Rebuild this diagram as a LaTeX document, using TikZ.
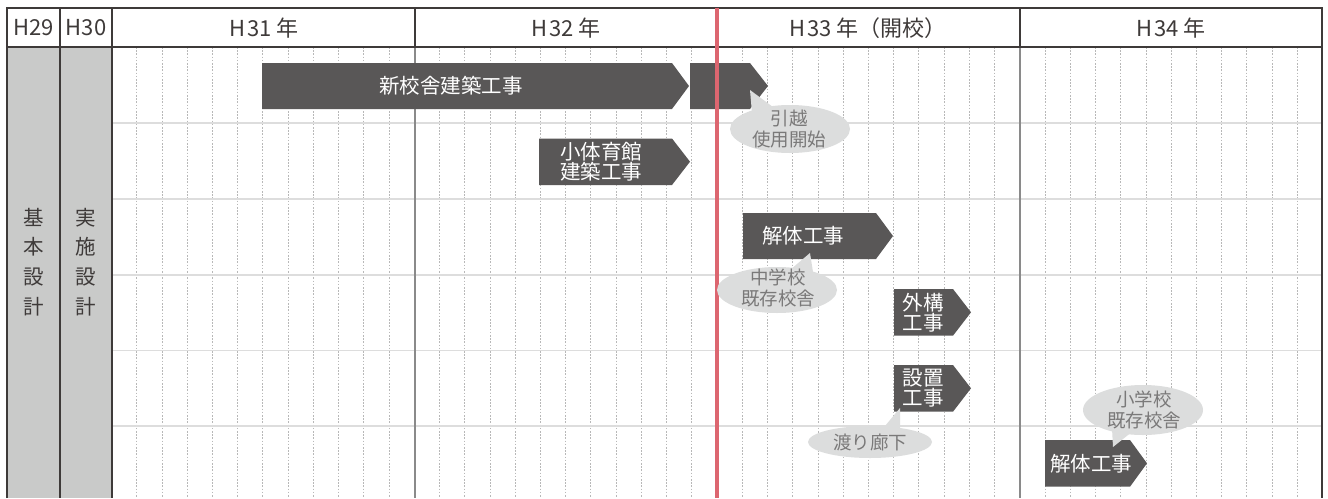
\documentclass[tikz,border=0pt]{standalone}
\usepackage{fontspec}
\setmainfont{Noto Sans CJK JP}
\definecolor{ink}{HTML}{3E3A39}
\definecolor{barc}{HTML}{595757}
\definecolor{colg}{HTML}{C9CAC9}
\definecolor{bub}{HTML}{DCDDDD}
\definecolor{bubtxt}{HTML}{7A7979}
\definecolor{redl}{HTML}{DC6670}
\definecolor{rowl}{HTML}{DDDDDD}
\definecolor{dotl}{HTML}{B8B8B8}
\definecolor{yearl}{HTML}{8A8A8A}
\begin{document}
\begin{tikzpicture}[x=1pt,y=-1pt,
  frame/.style={draw=ink,line width=1.6pt},
  dotline/.style={draw=dotl,line width=0.8pt,dash pattern=on 1.6pt off 1.6pt},
  rowline/.style={draw=rowl,line width=1.3pt},
  yearline/.style={draw=yearl,line width=1.3pt},
  redline/.style={draw=redl,line width=4.5pt},
  barshape/.style={fill=barc},
  bubshape/.style={fill=bub},
  hdr/.style={text=ink,font=\fontsize{22}{23}\selectfont,inner sep=0pt},
  vtext/.style={text=ink,font=\fontsize{20.5}{29.6}\selectfont,align=center,inner sep=0pt},
  bartext/.style={text=white,font=\fontsize{20.5}{20}\selectfont,align=center,inner sep=0pt},
  bubtext/.style={text=bubtxt,font=\fontsize{18.5}{21}\selectfont,align=center,inner sep=0pt}]
\useasboundingbox (0,0) rectangle (1328,498);
\fill[white] (0,0) rectangle (1328,498);
% grey design columns
\fill[colg] (7,47) rectangle (112,498);
% month grid
\foreach \i in {0,...,3}
  \foreach \k in {1,...,11}
    \draw[dotline] ({111.5+\i*302.75+\k*25.23},47) -- ++(0,451);
% row lines
\foreach \yy in {123,199,275,350.5,426}
  \draw[rowline] (112,\yy) -- (1322,\yy);
% year lines in body
\draw[yearline] (415,47) -- (415,498);
\draw[yearline] (1020,47) -- (1020,498);
% frame
\draw[frame] (7,498) -- (7,8) -- (1322,8) -- (1322,498);
\draw[frame] (7,47) -- (1322,47);
\draw[frame] (60,8) -- (60,498);
\draw[frame] (112,8) -- (112,498);
\draw[frame] (415,8) -- (415,47);
\draw[frame] (1020,8) -- (1020,47);
% header texts
\node[hdr] (h29) at (33.5,28) {H29};
\node[hdr] (h30) at (86,28) {H30};
\node[hdr] (h31) at (264,28) {H\kern2pt 31 年};
\node[hdr] (h32) at (566,28) {H\kern2pt 32 年};
\node[hdr] (h33) at (868,28) {H\kern2pt 33 年（開校）};
\node[hdr] (h34) at (1171,28) {H\kern2pt 34 年};
% vertical texts
\node[vtext] (kihon) at (33.5,262) {基\\本\\設\\計};
\node[vtext] (jisshi) at (86,262) {実\\施\\設\\計};
% bars
\fill[barshape] (262,63) -- (672,63) -- (689,86) -- (672,109) -- (262,109) -- cycle;
\fill[barshape] (690,63) -- (750,63) -- (768,86) -- (750,109) -- (690,109) -- cycle;
\fill[barshape] (539,138.5) -- (672,138.5) -- (690,161.7) -- (672,185) -- (539,185) -- cycle;
\fill[barshape] (743,213) -- (876,213) -- (893,236) -- (876,259) -- (743,259) -- cycle;
\fill[barshape] (894,289) -- (953,289) -- (971,312.3) -- (953,335.7) -- (894,335.7) -- cycle;
\fill[barshape] (894,365) -- (953,365) -- (971,388.3) -- (953,411.7) -- (894,411.7) -- cycle;
\fill[barshape] (1045,440) -- (1130,440) -- (1147,463.3) -- (1130,486.7) -- (1045,486.7) -- cycle;
\node[bartext] (shinkou) at (451,86) {新校舎建築工事};
\node[bartext] (taiiku) at (601,162) {小体育館\\建築工事};
\node[bartext] (kaitai1) at (803,236) {解体工事};
\node[bartext] (gaikou) at (923,312.5) {外構\\工事};
\node[bartext] (setchi) at (923,388.5) {設置\\工事};
\node[bartext] (kaitai2) at (1091,463.5) {解体工事};
% opening line
\draw[redline] (717,8) -- (717,498);
% callouts
\coordinate (t1) at (750,90);
\fill[bubshape] (t1) -- (752,113) -- (777,110) -- cycle;
\fill[bubshape] (790,129) ellipse [x radius=60pt, y radius=24pt];
\node[bubtext] (c1) at (789,129) {引越\\使用開始};
\coordinate (t2) at (810,253);
\fill[bubshape] (t2) -- (790,270) -- (813,272) -- cycle;
\fill[bubshape] (777,290) ellipse [x radius=60pt, y radius=23pt];
\node[bubtext] (c2) at (778,288) {中学校\\既存校舎};
\coordinate (t3) at (900,408);
\fill[bubshape] (t3) -- (880,432) -- (900,431) -- cycle;
\fill[bubshape] (870,442) ellipse [x radius=62pt, y radius=16pt];
\node[bubtext] (c3) at (870,442) {渡り廊下};
\coordinate (t4) at (1113,447);
\fill[bubshape] (t4) -- (1112,428) -- (1133,431) -- cycle;
\fill[bubshape] (1143,410) ellipse [x radius=60pt, y radius=25pt];
\node[bubtext] (c4) at (1144,410) {小学校\\既存校舎};
\end{tikzpicture}
\end{document}
